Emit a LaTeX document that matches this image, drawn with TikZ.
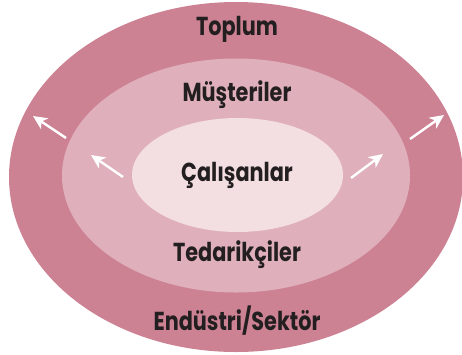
\documentclass[tikz,border=0pt]{standalone}
\usepackage{fontspec}
\setmainfont{Poppins}[BoldFont={Poppins Bold},BoldFeatures={FakeStretch=0.8}]
\usetikzlibrary{arrows.meta}
\definecolor{outerc}{RGB}{205,130,148}
\definecolor{midc}{RGB}{223,176,187}
\definecolor{innerc}{RGB}{243,222,226}
\definecolor{textc}{RGB}{35,31,32}
\tikzset{
  lbl/.style={font=\bfseries\fontsize{26}{28}\selectfont, text=textc, inner sep=0pt},
  arr/.style={white, line width=2.4pt, -{Stealth[length=14pt,width=13pt,inset=4pt]}}
}
\begin{document}
\begin{tikzpicture}[x=1pt,y=-1pt]
\useasboundingbox (0,0) rectangle (462,354);
\fill[outerc] (236,177) ellipse [x radius=227, y radius=175];
\fill[midc] (236,175.5) ellipse [x radius=174, y radius=117];
\fill[innerc] (237.5,175) ellipse [x radius=105.5, y radius=57];
\node[lbl] (toplum) at (237,29) {Toplum};
\node[lbl] (must) at (237,95) {Müşteriler};
\node[lbl] (cal) at (237,175) {Çalışanlar};
\node[lbl] (ted) at (237,255) {Tedarikçiler};
\node[lbl] (end) at (237,321) {Endüstri/Sektör};
\coordinate (a1s) at (66,138); \coordinate (a1e) at (33,116);
\coordinate (a2s) at (123,177); \coordinate (a2e) at (91,155);
\coordinate (a3s) at (351,178); \coordinate (a3e) at (383,154);
\coordinate (a4s) at (410,139); \coordinate (a4e) at (444,115);
\draw[arr] (a1s) -- (a1e);
\draw[arr] (a2s) -- (a2e);
\draw[arr] (a3s) -- (a3e);
\draw[arr] (a4s) -- (a4e);
\end{tikzpicture}
\end{document}
